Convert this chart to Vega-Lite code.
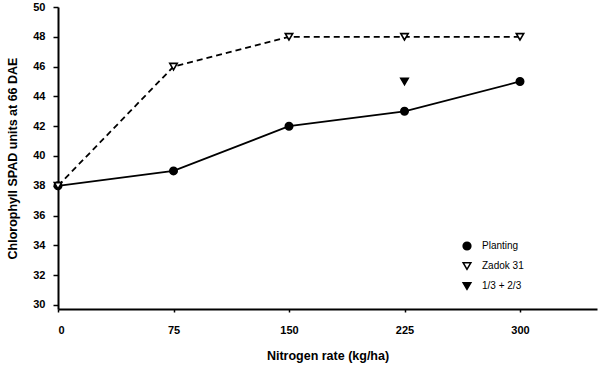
{
  "$schema": "https://vega.github.io/schema/vega-lite/v6.json",
  "autosize": {"type": "none"},
  "width": 539,
  "height": 302,
  "padding": {"left": 58, "top": 7, "right": 2, "bottom": 60},
  "background": "white",
  "config": {
    "font": "Liberation Sans",
    "view": {"stroke": null},
    "axis": {
      "domainColor": "black",
      "domainWidth": 2,
      "tickColor": "black",
      "tickWidth": 1.5,
      "grid": false,
      "labelColor": "black",
      "titleColor": "black",
      "labelFont": "Liberation Sans",
      "titleFont": "Liberation Sans",
      "labelFontSize": 11,
      "labelFontWeight": "bold",
      "titleFontSize": 12.5,
      "titleFontWeight": "bold"
    }
  },
  "data": {
    "values": [
      {"rate": 0, "spad": 38, "series": "Planting"},
      {"rate": 75, "spad": 39, "series": "Planting"},
      {"rate": 150, "spad": 42, "series": "Planting"},
      {"rate": 225, "spad": 43, "series": "Planting"},
      {"rate": 300, "spad": 45, "series": "Planting"},
      {"rate": 0, "spad": 38, "series": "Zadok 31"},
      {"rate": 75, "spad": 46, "series": "Zadok 31"},
      {"rate": 150, "spad": 48, "series": "Zadok 31"},
      {"rate": 225, "spad": 48, "series": "Zadok 31"},
      {"rate": 300, "spad": 48, "series": "Zadok 31"},
      {"rate": 225, "spad": 45, "series": "1/3 + 2/3"}
    ]
  },
  "encoding": {
    "x": {
      "field": "rate",
      "type": "quantitative",
      "scale": {"domain": [0, 350], "nice": false, "zero": false},
      "axis": {
        "values": [0, 75, 150, 225, 300],
        "title": "Nitrogen rate (kg/ha)",
        "tickSize": 3,
        "labelPadding": 12,
        "titlePadding": 14
      }
    },
    "y": {
      "field": "spad",
      "type": "quantitative",
      "scale": {"domain": [29.73, 50], "nice": false, "zero": false},
      "axis": {
        "values": [30, 32, 34, 36, 38, 40, 42, 44, 46, 48, 50],
        "title": "Chlorophyll SPAD units at 66 DAE",
        "tickSize": 5,
        "labelPadding": 8,
        "titlePadding": 13
      }
    }
  },
  "layer": [
    {
      "transform": [{"filter": "datum.series === 'Planting'"}],
      "mark": {"type": "line", "color": "black", "strokeWidth": 1.8},
      "encoding": {}
    },
    {
      "transform": [{"filter": "datum.series === 'Zadok 31'"}],
      "mark": {"type": "line", "color": "black", "strokeWidth": 1.8, "strokeDash": [6, 4]},
      "encoding": {}
    },
    {
      "mark": {"type": "point", "stroke": "black", "strokeWidth": 1.6, "opacity": 1, "size": 55},
      "encoding": {
        "shape": {
          "field": "series",
          "type": "nominal",
          "scale": {"domain": ["Planting", "Zadok 31", "1/3 + 2/3"], "range": ["circle", "triangle-down", "triangle-down"]},
          "legend": {
            "title": null,
            "orient": "none",
            "legendX": 404,
            "legendY": 234,
            "labelFont": "Liberation Sans",
            "labelFontSize": 10,
            "labelColor": "black",
            "symbolSize": 60,
            "rowPadding": 6,
            "labelOffset": 10,
            "encode": {"symbols": {"update": {"stroke": {"value": "black"}, "strokeWidth": {"value": 1.6}}}}
          }
        },
        "fill": {
          "field": "series",
          "type": "nominal",
          "scale": {"domain": ["Planting", "Zadok 31", "1/3 + 2/3"], "range": ["black", "white", "black"]},
          "legend": {
            "title": null,
            "orient": "none",
            "legendX": 404,
            "legendY": 234,
            "labelFont": "Liberation Sans",
            "labelFontSize": 10,
            "labelColor": "black",
            "symbolSize": 60,
            "rowPadding": 6,
            "labelOffset": 10,
            "encode": {"symbols": {"update": {"stroke": {"value": "black"}, "strokeWidth": {"value": 1.6}}}}
          }
        }
      }
    }
  ]
}
